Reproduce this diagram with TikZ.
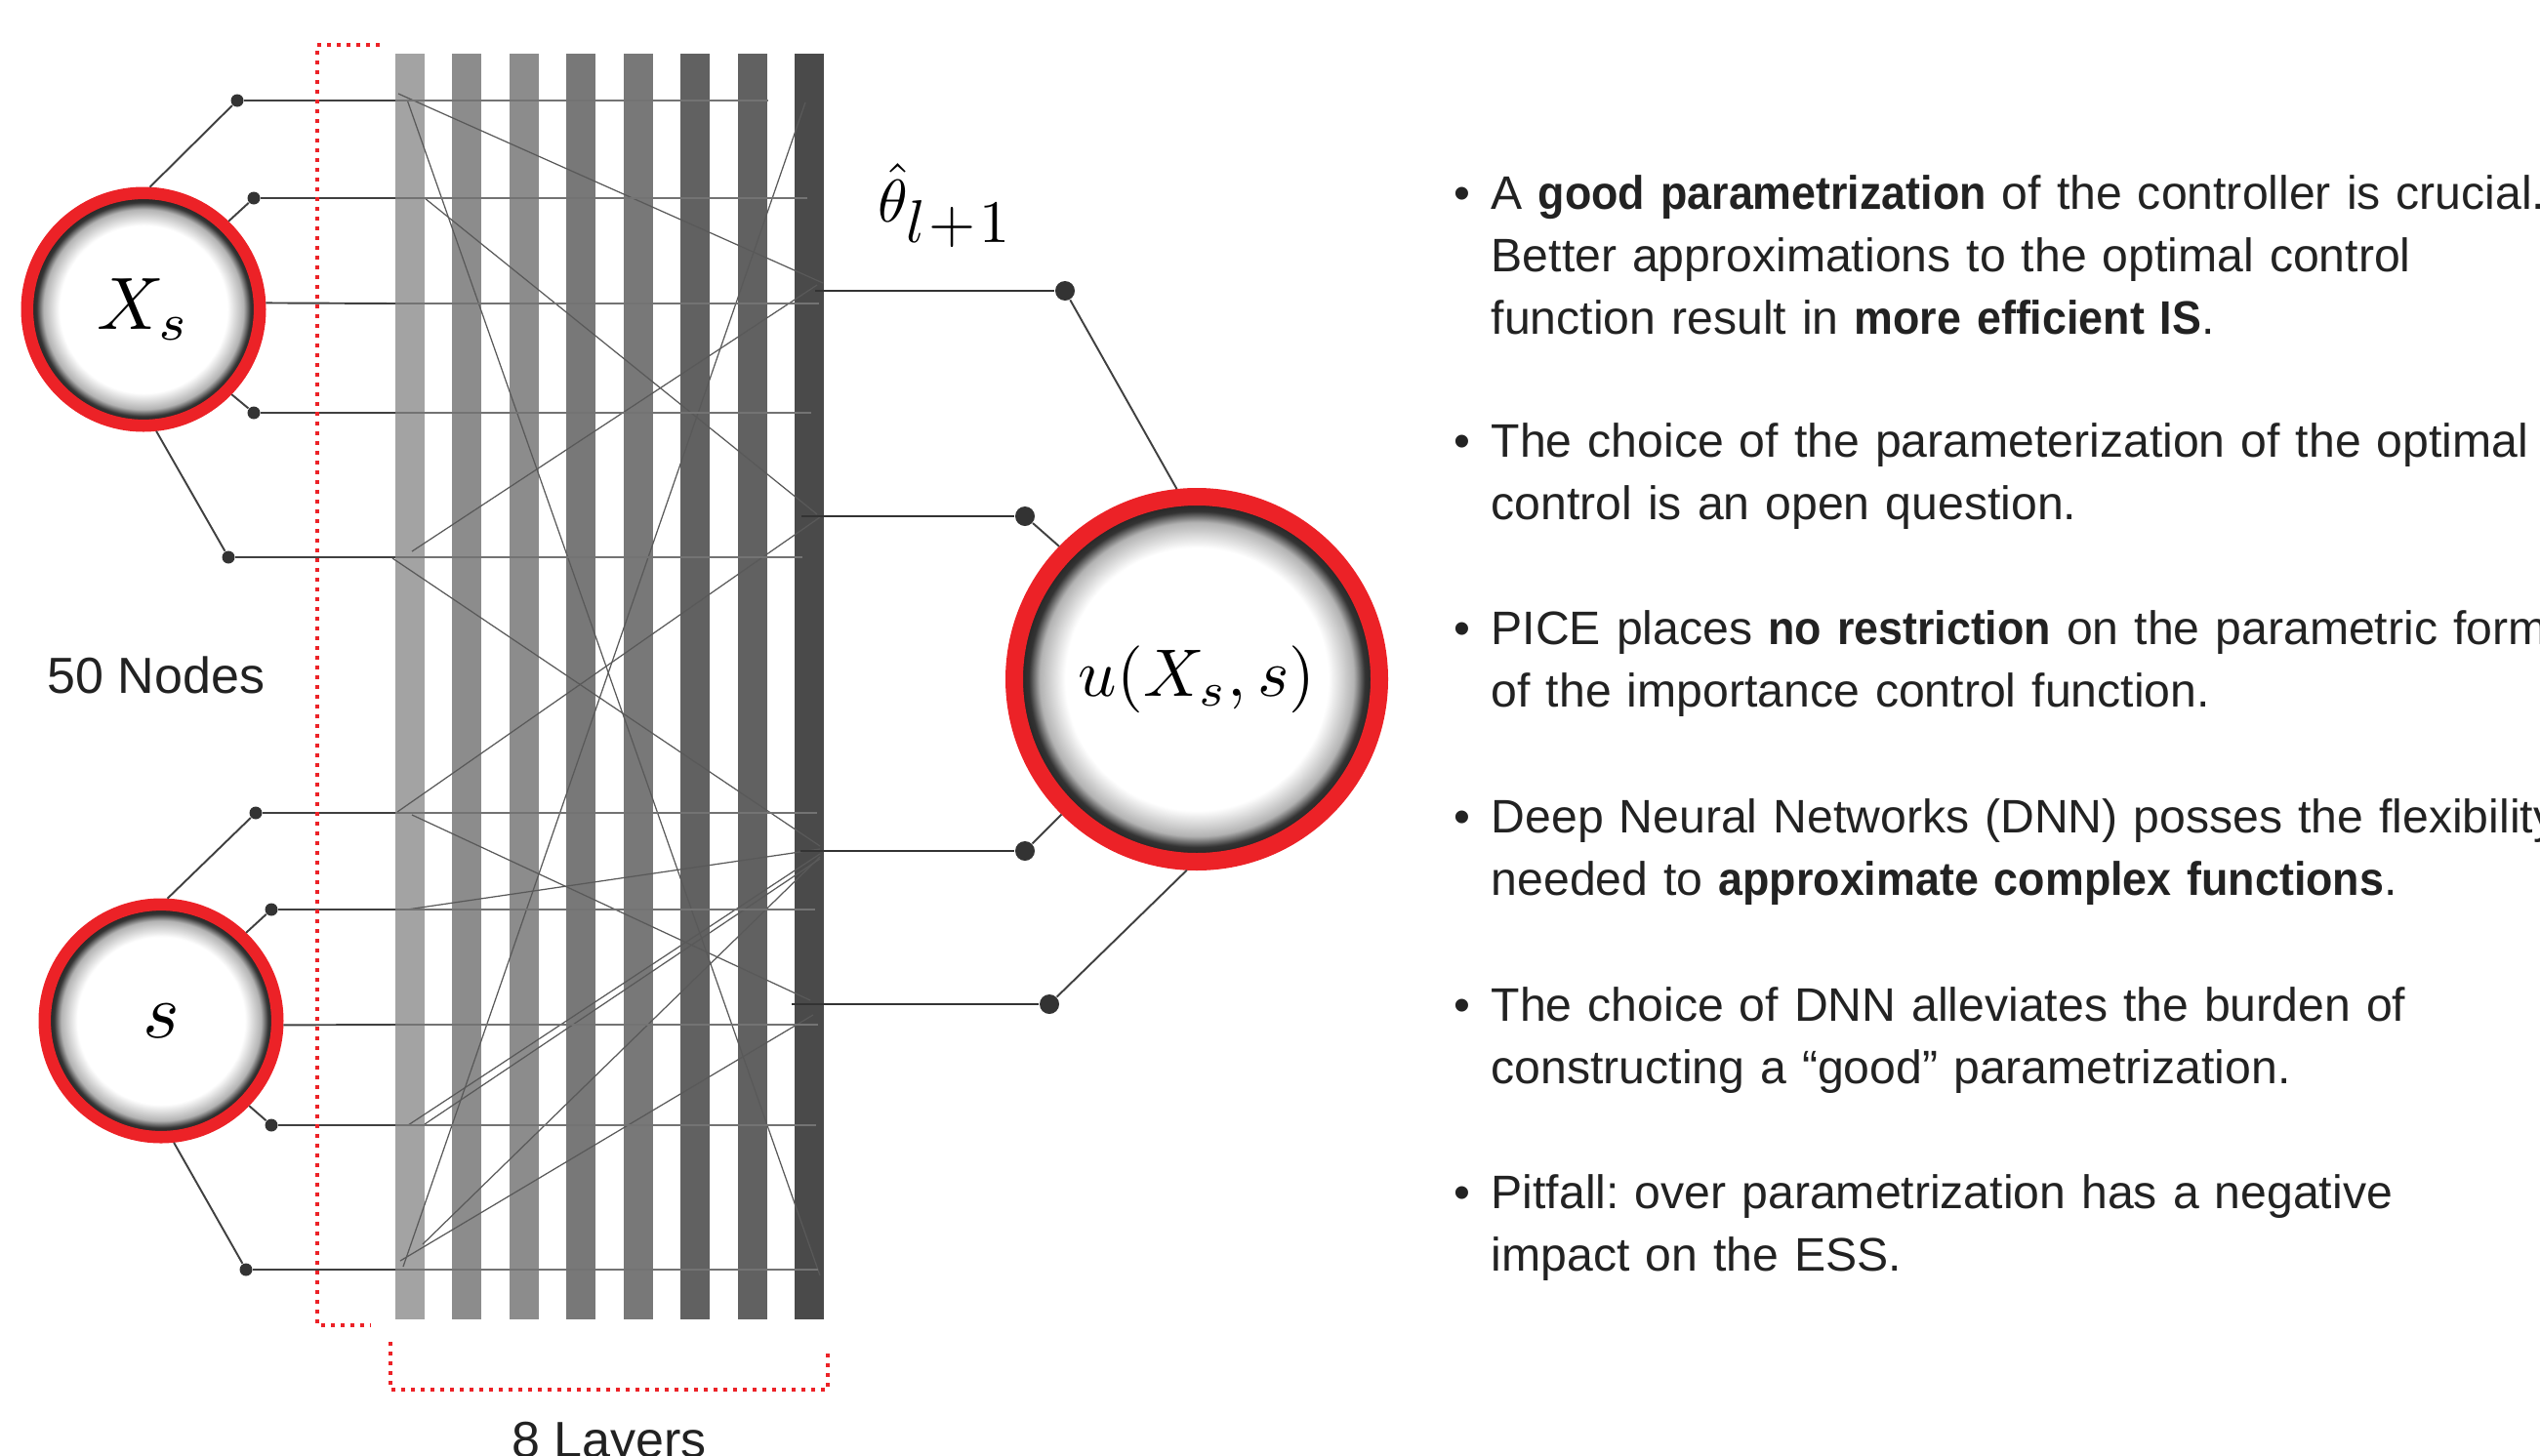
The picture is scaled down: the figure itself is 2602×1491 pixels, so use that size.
\documentclass[tikz,border=0pt]{standalone}
\usepackage{graphicx}
\usepackage{fontspec}
\setmainfont{Liberation Sans}[BoldFeatures={FakeStretch=0.93}]
\definecolor{RingRed}{HTML}{EC2227}
\definecolor{InkGray}{HTML}{222222}
\pgfdeclareradialshading{rimshade}{\pgfpoint{0bp}{0bp}}{color(0bp)=(white); color(18bp)=(white); color(21.5bp)=(black!30); color(23bp)=(black!80); color(25bp)=(black!90); color(50bp)=(black!90)}
\tikzset{
  neuron/.style={circle, draw=RingRed, line width=1.26mm, shade, shading=rimshade, minimum size=2.384cm, inner sep=0pt},
  dot/.style={circle, fill=black!80, inner sep=0pt, minimum size=1.3mm},
  bigdot/.style={circle, fill=black!80, inner sep=0pt, minimum size=2mm},
  wire/.style={draw=black!75, line width=0.55pt},
  outwire/.style={draw=black!80, line width=0.75pt},
  trace/.style={draw=black!55, line width=0.4pt},
  link/.style={draw=black!65, line width=0.35pt},
  bracket/.style={draw=RingRed, line width=0.4mm, dash pattern=on 0.4mm off 0.6mm},
  caption/.style={font=\fontsize{14.8}{18}\selectfont, text=InkGray, inner sep=0pt},
  point/.style={font=\fontsize{13.7}{18.21}\selectfont\frenchspacing, text=InkGray, inner sep=0pt, anchor=base west, text width=16cm, align=left},
  pointmark/.style={font=\fontsize{13.7}{18.21}\selectfont, text=InkGray, inner sep=0pt, anchor=base}
}

\begin{document}
\begin{tikzpicture}[x=0.1mm, y=-0.1mm]
  \useasboundingbox (0,0) rectangle (2602,1491);

  % layers
  \foreach \i/\g in {0/36, 1/45, 2/45, 3/53, 4/53, 5/62, 6/62, 7/71} {
    \fill[black!\g] ({405+58.43*\i},55) rectangle ++(30,1297);
  }

  % inputs and outputs
  \node[neuron] (Xs) at (147,317) {\scalebox{2.16}{$X_s$}};
  \node[neuron] (S) at (165,1046) {\scalebox{2.28}{$s$}};
  \node[neuron, line width=1.8mm, minimum size=3.74cm] (U) at (1226,696) {\scalebox{1.96}{$u(X_s,s)$}};

  % connections between the layers
  \foreach \a/\b [count=\k] in {{408,96}/{843,290}, {417,102}/{840,1307}, {435,203}/{837,527},
      {825,105}/{413,1298}, {837,292}/{422,565}, {402,572}/{840,867}, {407,832}/{840,530},
      {422,835}/{830,1025}, {417,932}/{840,870}, {840,875}/{418,1153}, {840,880}/{435,1152},
      {840,878}/{433,1275}, {833,1040}/{410,1292}} {
    \coordinate (ls\k) at (\a);
    \coordinate (le\k) at (\b);
    \draw[link] (ls\k) -- (le\k);
  }

  % input wires
  \foreach \n/\x/\y/\e in {x1/243/103/787, x2/260/203/827, x3/260/423/831, x4/234/571/822,
      s1/262/833/837, s2/278/932/835, s3/278/1153/836, s4/252/1301/838} {
    \node[dot] (\n) at (\x,\y) {};
    \coordinate (\n-in) at (405,\y);
    \coordinate (\n-end) at (\e,\y);
    \draw[wire] (\n) -- (\n-in);
    \draw[trace] (\n-in) -- (\n-end);
  }
  \foreach \n/\a in {x1/87, x2/46, x3/-44, x4/-84} { \draw[wire] (\n) -- (Xs.\a); }
  \foreach \n/\a in {s1/87, s2/46, s3/-44, s4/-84} { \draw[wire] (\n) -- (S.\a); }
  \coordinate (xc-in) at (405,311);
  \coordinate (xc-end) at (839,311);
  \draw[wire] (Xs.3) -- (xc-in);
  \draw[trace] (xc-in) -- (xc-end);
  \coordinate (sc-in) at (405,1050);
  \coordinate (sc-end) at (838,1050);
  \draw[wire] (S.-2) -- (sc-in);
  \draw[trace] (sc-in) -- (sc-end);

  % output wires
  \foreach \n/\x/\y/\s/\a in {o1/1091/298/835/96, o2/1050/529/821/136, o3/1050/872/820/225, o4/1075/1029/811/267} {
    \node[bigdot] (\n) at (\x,\y) {};
    \coordinate (\n-out) at (\s,\y);
    \draw[outwire] (\n-out) -- (\n);
    \draw[wire] (\n) -- (U.\a);
  }
  \node[anchor=base west, inner sep=0pt] (theta) at (899,227) {\scalebox{1.76}{$\hat\theta_{\textstyle l\mkern1mu{+}\mkern1mu1}$}};

  % brackets
  \draw[bracket] (389,46) -- (325,46) -- (325,1358) -- (380,1358);
  \draw[bracket] (400,1375) -- (400,1424) -- (848,1424) -- (848,1382);
  \node[caption, anchor=base] (nodes) at (160,710) {50 Nodes};
  \node[caption, anchor=base] (layers) at (624,1493) {8 Layers};

  % bullet points
  \node[pointmark] (b1) at (1498,214) {\textbullet};
  \node[point] (t1) at (1527,214) {A \textbf{good parametrization} of the controller is crucial.\\Better approximations to the optimal control\\function result in \textbf{more efficient IS}.};
  \node[pointmark] (b2) at (1498,468) {\textbullet};
  \node[point] (t2) at (1527,468) {The choice of the parameterization of the optimal\\control is an open question.};
  \node[pointmark] (b3) at (1498,660) {\textbullet};
  \node[point] (t3) at (1527,660) {PICE places \textbf{no restriction} on the parametric form\\of the importance control function.};
  \node[pointmark] (b4) at (1498,853) {\textbullet};
  \node[point] (t4) at (1527,853) {Deep Neural Networks (DNN) posses the flexibility\\needed to \textbf{approximate complex functions}.};
  \node[pointmark] (b5) at (1498,1046) {\textbullet};
  \node[point] (t5) at (1527,1046) {The choice of DNN alleviates the burden of\\constructing a “good” parametrization.};
  \node[pointmark] (b6) at (1498,1238) {\textbullet};
  \node[point] (t6) at (1527,1238) {Pitfall: over parametrization has a negative\\impact on the ESS.};
\end{tikzpicture}
\end{document}
